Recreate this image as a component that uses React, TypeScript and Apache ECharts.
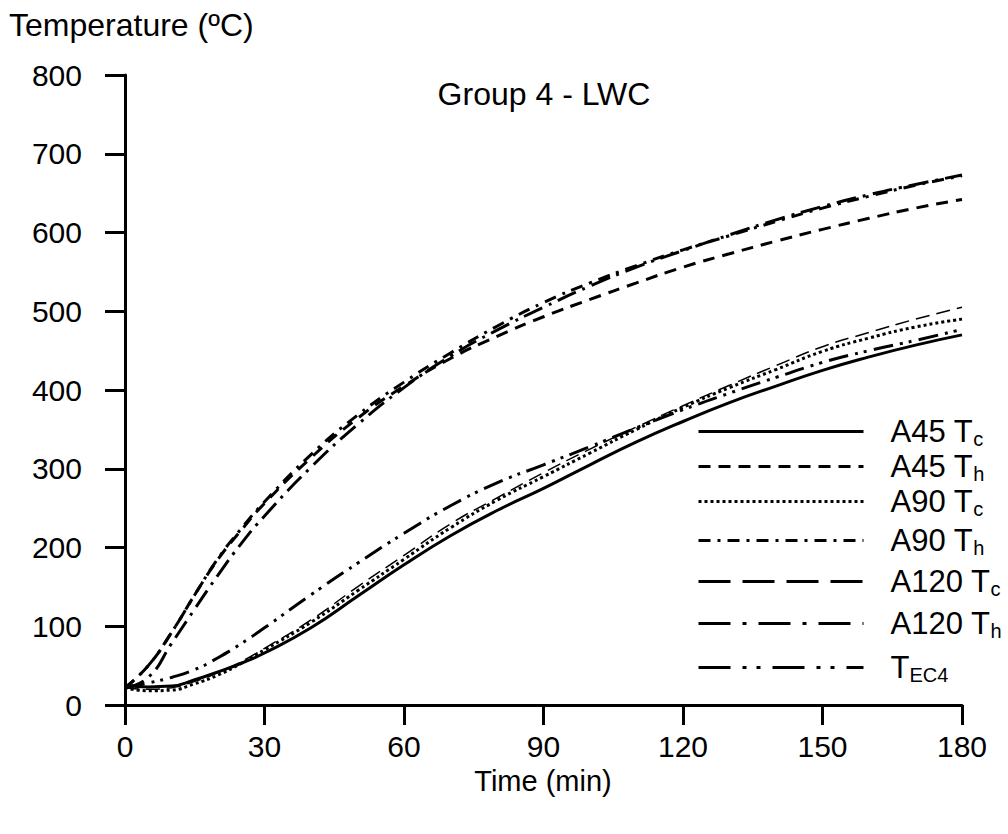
import React, { useEffect, useRef } from "react";
import * as echarts from "echarts";

const times = [0, 5, 10, 15, 20, 25, 30, 40, 50, 60, 70, 80, 90, 100, 110, 120, 130, 140, 150, 160, 170, 180];
const a45Tc = [25, 23, 24, 32, 42, 53, 66, 98, 138, 178, 215, 247, 275, 305, 334, 360, 384, 405, 425, 442, 457, 470];
const a45Th = [22, 50, 92, 140, 185, 222, 256, 314, 364, 405, 440, 468, 493, 515, 536, 556, 573, 589, 604, 618, 631, 642];
const a90Tc = [22, 18, 19, 27, 38, 53, 70, 105, 145, 185, 225, 260, 290, 320, 350, 378, 403, 426, 449, 466, 480, 490];
const a90Th = [22, 50, 92, 140, 186, 224, 258, 318, 368, 410, 447, 481, 511, 536, 558, 578, 596, 614, 631, 646, 660, 672];
const a120Tc = [22, 20, 22, 30, 41, 55, 72, 108, 150, 190, 230, 263, 295, 325, 353, 380, 406, 431, 455, 473, 490, 505];
const a120Th = [22, 35, 78, 122, 165, 205, 240, 302, 356, 403, 443, 476, 505, 532, 556, 577, 597, 616, 633, 648, 661, 673];
const tEC4 = [22, 28, 35, 45, 60, 78, 98, 140, 180, 218, 253, 282, 305, 328, 352, 375, 396, 416, 435, 450, 463, 477];

const xTicks = [0, 30, 60, 90, 120, 150, 180];

const seriesDefs = [
  { name: "A45 Tc", label: "A45 T{s|c}", data: a45Tc, dash: "solid" as any, width: 3, legendY: 432 },
  { name: "A45 Th", label: "A45 T{s|h}", data: a45Th, dash: [12, 8], width: 3, legendY: 467 },
  { name: "A90 Tc", label: "A90 T{s|c}", data: a90Tc, dash: [3, 3], width: 3, legendY: 502 },
  { name: "A90 Th", label: "A90 T{s|h}", data: a90Th, dash: [12, 7, 3, 7], width: 3, legendY: 541 },
  { name: "A120 Tc", label: "A120 T{s|c}", data: a120Tc, dash: [14, 7], width: 1.5, legendWidth: 3, legendDash: [32, 12], legendY: 582 },
  { name: "A120 Th", label: "A120 T{s|h}", data: a120Th, dash: [20, 7, 3, 7], width: 3, legendDash: [32, 12, 4, 12], legendY: 624 },
  { name: "TEC4", label: "T{s|EC4}", data: tEC4, dash: [20, 7, 3, 6, 3, 7], width: 3, legendDash: [32, 12, 4, 10, 4, 12], legendY: 668 },
];

export default function App() {
  const ref = useRef<HTMLDivElement>(null);
  useEffect(() => {
    const chart = echarts.init(ref.current!, null, { renderer: "svg" });
    const font = "Liberation Sans, Arial, sans-serif";
    const labelMap: Record<string, string> = {};
    seriesDefs.forEach((s) => (labelMap[s.name] = s.label));
    const TICK = 30;
    chart.setOption({
      animation: false,
      backgroundColor: "#fff",
      textStyle: { fontFamily: font },
      grid: { left: 125, right: 46, top: 75, bottom: 129, containLabel: false },
      graphic: [
        { type: "text", left: 9, top: 9, style: { text: "Temperature (ºC)", font: `32px ${font}`, fill: "#000" } },
        { type: "text", x: 544, y: 94, style: { text: "Group 4 - LWC", font: `32px ${font}`, fill: "#000", align: "center", verticalAlign: "middle" } },
        { type: "text", x: 543, y: 781, style: { text: "Time (min)", font: `29px ${font}`, fill: "#000", align: "center", verticalAlign: "middle" } },
      ],
      xAxis: {
        type: "value",
        min: 0,
        max: 180,
        interval: 30,
        splitLine: { show: false },
        axisLine: { lineStyle: { color: "#000", width: 3 } },
        axisTick: { show: true, length: 20, lineStyle: { color: "#000", width: 3 } },
        axisLabel: { color: "#000", fontSize: TICK, margin: 26, fontFamily: font, formatter: (v: number) => (xTicks.includes(v) ? String(v) : "") },
      },
      yAxis: {
        type: "value",
        min: 0,
        max: 800,
        interval: 100,
        splitLine: { show: false },
        axisLine: { show: true, lineStyle: { color: "#000", width: 3 } },
        axisTick: { show: true, length: 20, lineStyle: { color: "#000", width: 3 } },
        axisLabel: { color: "#000", fontSize: TICK, margin: 43, fontFamily: font },
      },
      legend: seriesDefs.map((s) => ({
        orient: "vertical",
        left: 697,
        top: s.legendY - 16,
        padding: 0,
        itemWidth: 165,
        itemHeight: 32,
        itemStyle: { opacity: 0 },
        data: [
          {
            name: s.name,
            lineStyle: { type: (s as any).legendDash || s.dash, width: (s as any).legendWidth || s.width, color: "#000" },
          },
        ],
        formatter: (n: string) => labelMap[n],
        selectedMode: false,
        textStyle: {
          color: "#000",
          fontSize: 31,
          fontFamily: font,
          padding: [0, 0, 0, 22],
          rich: {
            s: { fontSize: 20, fontFamily: font, color: "#000", padding: [14, 0, 0, 0] },
          },
        },
      })),
      series: seriesDefs.map((s) => ({
        name: s.name,
        type: "line",
        smooth: true,
        symbol: "none",
        showSymbol: false,
        data: times.map((t, i) => [t, s.data[i]]),
        lineStyle: { color: "#000", width: s.width, type: s.dash },
        itemStyle: { color: "#000" },
      })),
    });
    return () => chart.dispose();
  }, []);
  return <div ref={ref} style={{ width: 1008, height: 834, position: "absolute", left: 0, top: 0 }} />;
}
